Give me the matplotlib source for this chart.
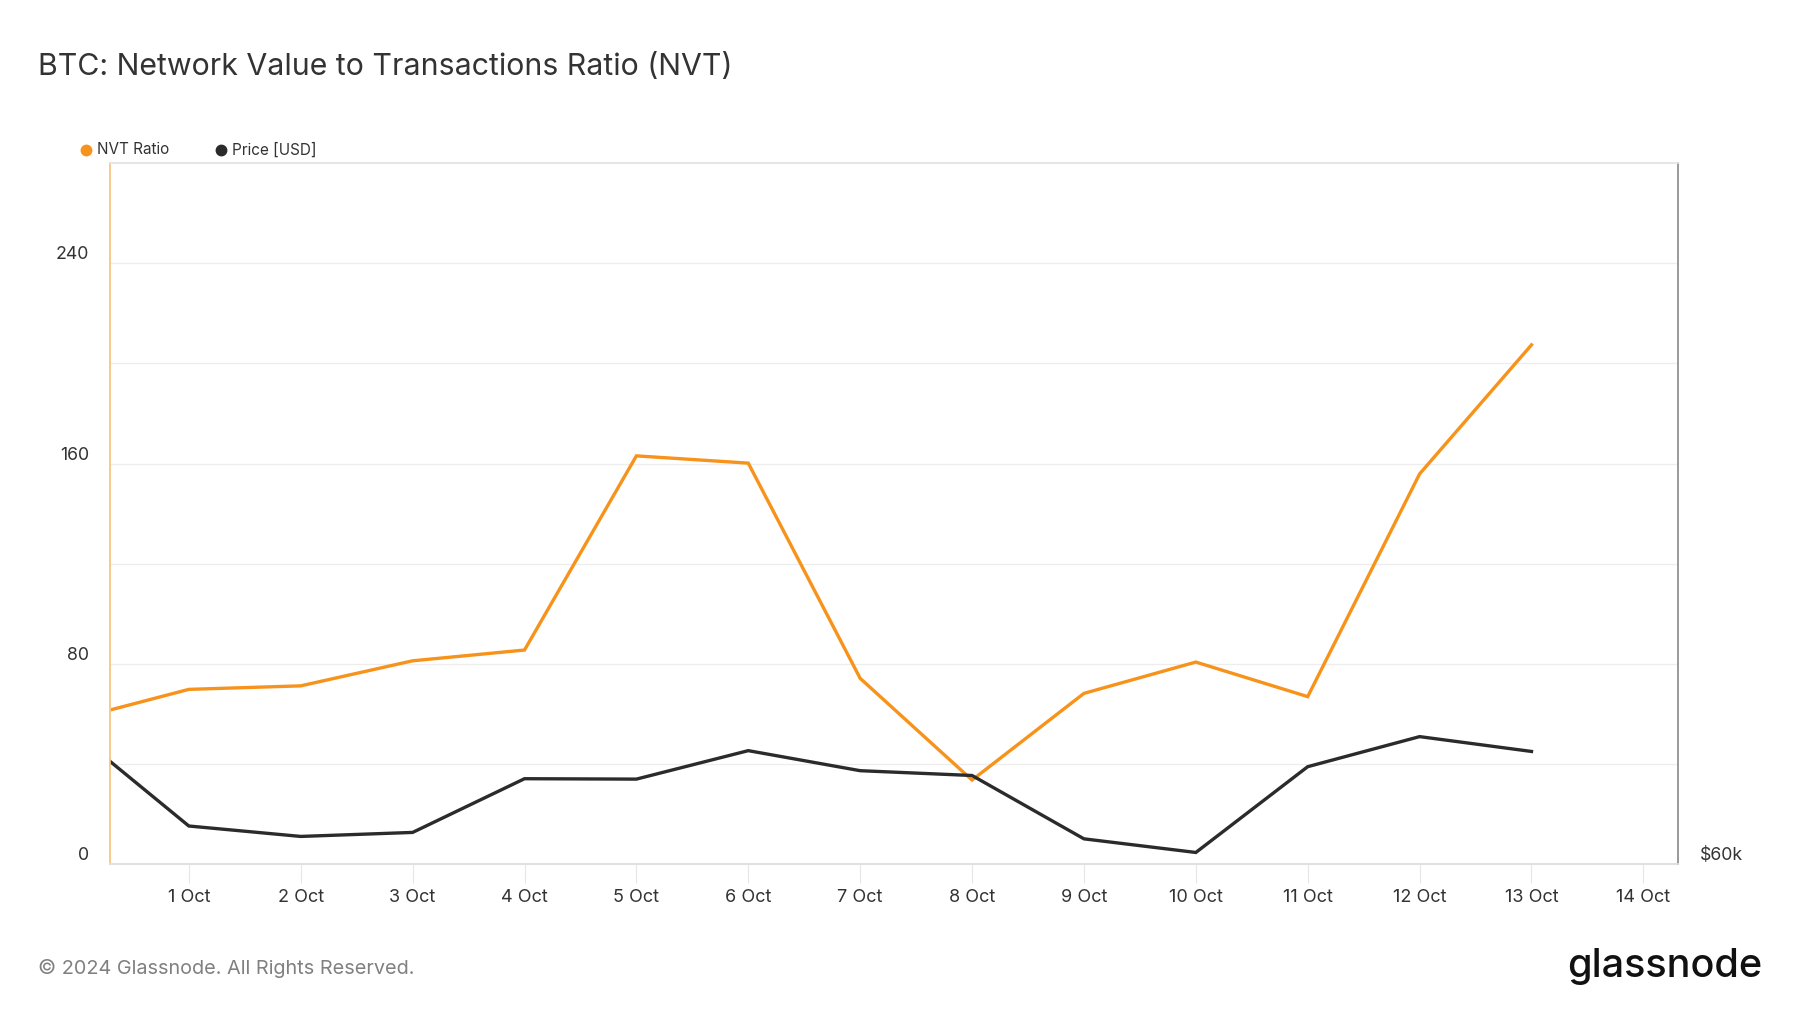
"""
BTC NVT ratio vs price, glassnode style.
"""

import matplotlib
import numpy as np
import pandas as pd

matplotlib.use("Agg")  # headless
import matplotlib.pyplot as plt
from matplotlib.lines import Line2D

plt.rcParams["font.family"] = ["Inter", "DejaVu Sans"]

# data (daily, Sep 30 is clipped by the left edge)
dates = pd.date_range("2024-09-30", "2024-10-13", freq="D")
nvt_ratio = [58.2, 69.9, 71.3, 81.3, 85.6, 163.1, 160.2, 74.3, 33.7, 68.3, 80.8, 67.0, 155.9, 207.4]
price_usd = [63250, 60960, 60700, 60800, 62140, 62130, 62840, 62340, 62220, 60640, 60300, 62440, 63190, 62820]

tick_dates = pd.date_range("2024-10-01", "2024-10-14", freq="D")
tick_labels = [f"{d.day} {d:%b}" for d in tick_dates]

nvt_ticks = [0, 80, 160, 240]
nvt_grid = [40, 80, 120, 160, 200, 240]
price_ticks = [60000]
price_labels = ["$60k"]

ORANGE = "#F7931A"
DARK = "#2B2B2B"
TEXT = "#333333"

fig = plt.figure(figsize=(18, 10.13), dpi=100)
ax = fig.add_axes([0.0611, 0.1466, 0.8711, 0.6925])
ax2 = ax.twinx()

ax.plot(dates, nvt_ratio, color=ORANGE, linewidth=2.4, solid_joinstyle="miter")
ax2.plot(dates, price_usd, color=DARK, linewidth=2.4, solid_joinstyle="miter")

ax.set_xlim(pd.Timestamp("2024-09-30 07:05"), pd.Timestamp("2024-10-14 07:25"))
ax.set_ylim(0, 280)
ax2.set_ylim(60000, 77500)

# grid
for g in nvt_grid:
    ax.axhline(g, color="#ededed", linewidth=0.9, zorder=0)

ax.set_yticks(nvt_ticks)
ax.set_yticklabels([str(t) for t in nvt_ticks])
for lab in ax.get_yticklabels():
    lab.set_verticalalignment("bottom")
ax.tick_params(axis="y", length=0, pad=15, labelsize=12.8, labelcolor=TEXT)

ax.set_xticks(tick_dates)
ax.set_xticklabels(tick_labels)
ax.tick_params(axis="x", length=14, width=0.8, color="#e6e6e6", pad=4,
               labelsize=13, labelcolor=TEXT)

ax2.set_yticks(price_ticks)
ax2.set_yticklabels(price_labels)
for lab in ax2.get_yticklabels():
    lab.set_verticalalignment("bottom")
ax2.tick_params(axis="y", length=0, pad=16, labelsize=12.8, labelcolor=TEXT)

for a in (ax, ax2):
    a.spines["top"].set_color("#e6e6e6")
    a.spines["bottom"].set_color("#e0e0e0")
    a.spines["left"].set_color("#F9C98A")
    a.spines["right"].set_color("#9a9a9a")
    for s in a.spines.values():
        s.set_linewidth(1.2)
ax.patch.set_visible(False)

# title
fig.text(0.021, 0.934, "BTC: Network Value to Transactions Ratio (NVT)",
         fontsize=21.8, color=TEXT, va="center", ha="left")

# legend
for mx, tx, col, label in [(0.048, 0.054, ORANGE, "NVT Ratio"),
                           (0.1225, 0.129, DARK, "Price [USD]")]:
    fig.add_artist(Line2D([mx], [0.852], marker="o", markersize=7.5, color=col,
                          linestyle="none", transform=fig.transFigure))
    fig.text(tx, 0.852, label, fontsize=11, color=TEXT, va="center", ha="left")

# footer
fig.text(0.021, 0.044, "\u00a9 2024 Glassnode. All Rights Reserved.",
         fontsize=14.3, color="#808080", va="center", ha="left")
fig.text(0.979, 0.046, "glassnode", fontsize=28.5, color="#111111",
         va="center", ha="right", fontweight="medium")

plt.savefig("out.png", dpi=100)
plt.close()
